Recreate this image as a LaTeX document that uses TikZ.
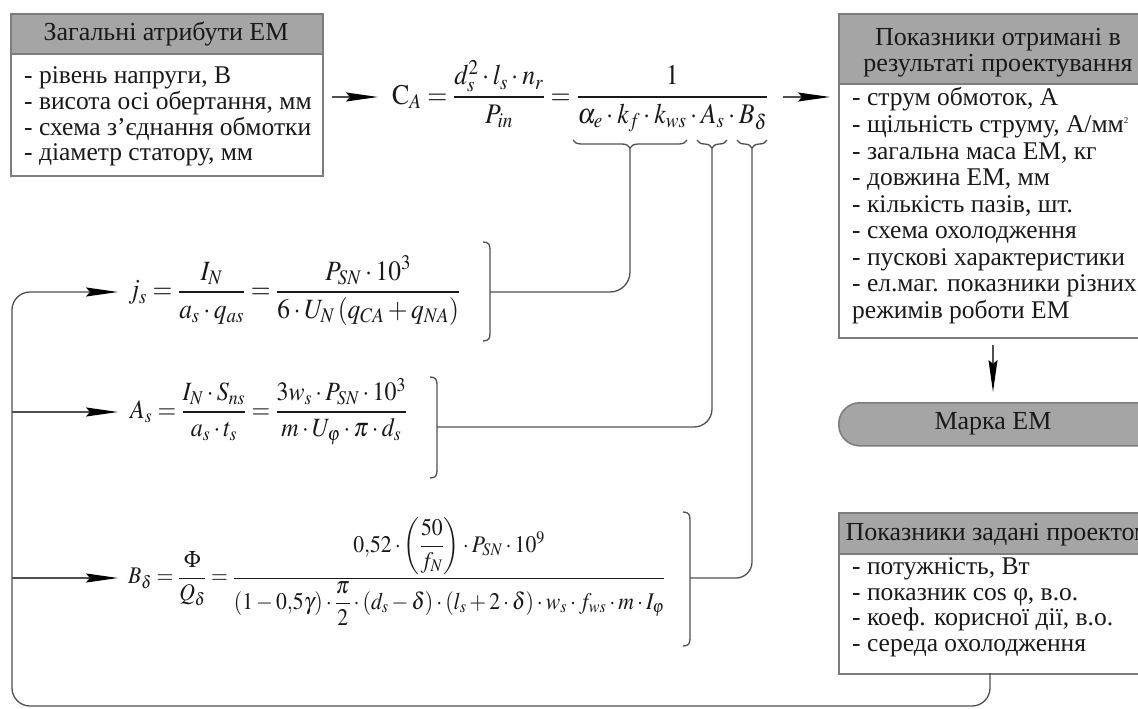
\documentclass[tikz,border=0pt]{standalone}
\usepackage{amsmath}
\usepackage{mathptmx}
\usepackage[no-math]{fontspec}
\setmainfont{Liberation Serif}
\usetikzlibrary{arrows.meta,decorations.pathreplacing,calc}
\definecolor{hdrgray}{RGB}{165,165,165}
\definecolor{framegray}{RGB}{125,125,125}
\definecolor{wiregray}{RGB}{80,80,80}
\definecolor{inkc}{RGB}{25,25,25}
\newcommand\eqbox[2]{\scalebox{1}[1.1]{\resizebox{#1}{!}{\fontsize{24}{28}\selectfont$\displaystyle\raisebox{-\fontdimen22\textfont2}{$\displaystyle #2$}$}}}
\newcommand\sqtwo{\raisebox{9pt}{\fontsize{9}{9}\selectfont 2}}
\begin{document}
\begin{tikzpicture}[x=1pt,y=-1pt,
  headbox/.style={draw=framegray, line width=1.6pt, fill=hdrgray, inner sep=0pt},
  bodybox/.style={draw=framegray, line width=1.6pt, fill=white, inner sep=0pt},
  pillbox/.style={draw=framegray, line width=1.6pt, fill=hdrgray, inner sep=0pt, rounded corners=21pt},
  btxt/.style={font=\fontsize{25.5}{27}\selectfont, inner sep=0pt, text=inkc},
  htxt/.style={font=\fontsize{26}{28}\selectfont, inner sep=0pt, text=inkc},
  eqn/.style={inner sep=0pt, anchor=base west, text=inkc},
  wire/.style={draw=wiregray, line width=1.3pt},
  arr/.style={wire, -{Stealth[length=32pt,width=9pt,inset=4pt,color=black]}},
  bracebar/.style={wire, decorate, decoration={brace, mirror, amplitude=8pt}}
]
\clip (0,0) rectangle (1138,709);
\fill[white] (0,0) rectangle (1138,709);

% ---------- box 1 ----------
\node[headbox, anchor=north west, minimum width=312pt, minimum height=40pt] (h1) at (10,13) {};
\node[bodybox, anchor=north west, minimum width=312pt, minimum height=122pt] (g1) at (10,53) {};
\node[htxt, anchor=base] (h1t) at (166,41) {Загальні атрибути ЕМ};
\node[btxt, anchor=base west] (g1a) at (24,84) {- рівень напруги, В};
\node[btxt, anchor=base west] (g1b) at (24,109.5) {- висота осі обертання, мм};
\node[btxt, anchor=base west] (g1c) at (24,135) {- схема з’єднання обмотки};
\node[btxt, anchor=base west] (g1d) at (24,160.5) {- діаметр статору, мм};

% ---------- right box 1 ----------
\node[headbox, anchor=north west, minimum width=320pt, minimum height=70pt] (r1h) at (838,13) {};
\node[bodybox, anchor=north west, minimum width=320pt, minimum height=254pt] (r1) at (838,83) {};
\node[htxt, anchor=base] (r1ha) at (998,46) {Показники отримані в};
\node[htxt, anchor=base] (r1hb) at (998,72) {результаті проектування};
\node[btxt, anchor=base west] (r1a) at (852,106) {- струм обмоток, А};
\node[btxt, anchor=base west] (r1b) at (852,132.5) {- щільність струму, А/мм\sqtwo};
\node[btxt, anchor=base west] (r1c) at (852,159) {- загальна маса ЕМ, кг};
\node[btxt, anchor=base west] (r1d) at (852,185.5) {- довжина ЕМ, мм};
\node[btxt, anchor=base west] (r1e) at (852,212) {- кількість пазів, шт.};
\node[btxt, anchor=base west] (r1f) at (852,238.5) {- схема охолодження};
\node[btxt, anchor=base west] (r1g) at (852,265) {- пускові характеристики};
\node[btxt, anchor=base west] (r1i) at (852,291.5) {- ел.маг. показники різних};
\node[btxt, anchor=base west] (r1j) at (852,318) {режимів роботи ЕМ};

% ---------- pill ----------
\node[pillbox, anchor=north west, minimum width=320pt, minimum height=43pt] (mk) at (838,402) {};
\node[htxt] (mkt) at (993,424) {Марка ЕМ};

% ---------- right box 2 ----------
\node[headbox, anchor=north west, minimum width=320pt, minimum height=41pt] (r2h) at (838,512) {};
\node[bodybox, anchor=north west, minimum width=320pt, minimum height=120pt] (r2) at (838,553) {};
\node[htxt, anchor=base] (r2ht) at (998,540) {Показники задані проектом};
\node[btxt, anchor=base west] (r2a) at (852,574) {- потужність, Вт};
\node[btxt, anchor=base west] (r2b) at (852,600) {- показник cos φ, в.о.};
\node[btxt, anchor=base west] (r2c) at (852,625.5) {- коеф. корисної дії, в.о.};
\node[btxt, anchor=base west] (r2d) at (852,651) {- середа охолодження};

% ---------- equations ----------
\node[eqn] (CA) at (392,97) {\eqbox{376pt}{\mathrm{C}_A=\frac{d_s^2\cdot l_s\cdot n_r}{P_{in}}=\frac{1}{\alpha_e\cdot k_f\cdot k_{ws}\cdot A_s\cdot B_\delta}}};
\node[eqn] (js) at (128,292) {\eqbox{332pt}{j_s=\frac{I_N}{a_s\cdot q_{as}}=\frac{P_{SN}\cdot 10^3}{6\cdot U_N\left(q_{CA}+q_{NA}\right)}}};
\node[eqn] (As) at (130,412) {\eqbox{277pt}{A_s=\frac{I_N\cdot S_{ns}}{a_s\cdot t_s}=\frac{3w_s\cdot P_{SN}\cdot 10^3}{m\cdot U_\varphi\cdot \pi\cdot d_s}}};
\node[eqn] (Bd) at (128,578) {\eqbox{537pt}{B_\delta=\frac{\Phi}{Q_\delta}=\frac{0{,}52\cdot\left(\dfrac{50}{f_N}\right)\cdot P_{SN}\cdot 10^9}{\left(1-0{,}5\gamma\right)\cdot\dfrac{\pi}{2}\cdot\left(d_s-\delta\right)\cdot\left(l_s+2\cdot\delta\right)\cdot w_s\cdot f_{ws}\cdot m\cdot I_\varphi}}};

% ---------- braces under C_A denominator ----------
\draw[bracebar] (573,140) -- (687,140);
\draw[bracebar] (697,140) -- (727,140);
\draw[bracebar] (737,140) -- (767,140);
\coordinate (t1) at (630,148);
\coordinate (t2) at (712,148);
\coordinate (t3) at (752,148);

% ---------- right brackets ----------
\draw[wire] (483,242) .. controls (489,242) and (490,245) .. (490,250) -- (490,333) .. controls (490,338) and (489,341) .. (483,341);
\draw[wire] (430,377) .. controls (436,377) and (437,380) .. (437,385) -- (437,470) .. controls (437,475) and (436,478) .. (430,478);
\draw[wire] (683,512) .. controls (689,512) and (690,515) .. (690,520) -- (690,638) .. controls (690,643) and (689,646) .. (683,646);
\coordinate (k1) at (490,292);
\coordinate (k2) at (437,427);
\coordinate (k3) at (690,578);

\draw[wire, rounded corners=20pt] (k1) -| (t1);
\draw[wire, rounded corners=18pt] (k2) -| (t2);
\draw[wire, rounded corners=16pt] (k3) -| (t3);

% ---------- arrows ----------
\draw[arr, shorten <=8pt, shorten >=14pt] (g1.east |- CA.base) -- (CA.base west);
\draw[arr, shorten <=15pt, shorten >=8pt] (CA.base east) -- (CA.base east -| r1.west);
\draw[arr, shorten <=6pt, shorten >=10pt] (r1.south -| mkt) -- (mk.north -| mkt);

\coordinate (lp) at (990,673);
\coordinate (v2) at (12,412);
\coordinate (v3) at (12,578);
\draw[arr, rounded corners=18pt, shorten >=10pt] (lp) |- (12,706) |- (js.base west);
\draw[arr, shorten >=12pt] (v2) -- (As.base west);
\draw[arr, shorten >=10pt] (v3) -- (Bd.base west);
\end{tikzpicture}
\end{document}
